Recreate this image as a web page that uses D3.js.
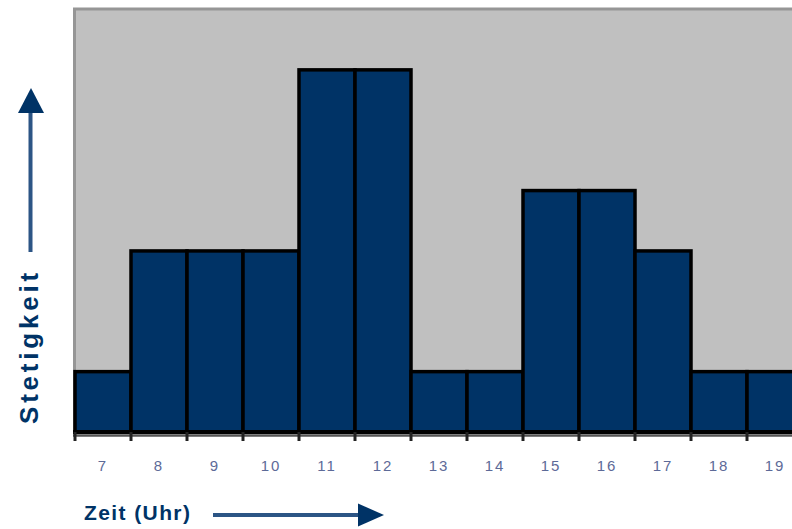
<!DOCTYPE html>
<html>
<head>
<meta charset="utf-8">
<script src="https://cdn.jsdelivr.net/npm/d3@7"></script>
<style>
  html, body { margin: 0; padding: 0; background: #ffffff; }
  svg { display: block; }
</style>
</head>
<body>
<script>
// Hourly frequency histogram (Stetigkeit per hour of day)
const hours = ["7", "8", "9", "10", "11", "12", "13", "14", "15", "16", "17", "18", "19"];
const counts = [1, 3, 3, 3, 6, 6, 1, 1, 4, 4, 3, 1, 1];
const yMax = 7;
const xTitle = "Zeit (Uhr)";
const yTitle = "Stetigkeit";

const W = 792, H = 529;
const plot = { left: 75, top: 9.5, bottom: 432, step: 56 };
const navy = "#003366";

const svg = d3.select("body").append("svg")
  .attr("width", W).attr("height", H);

const x = d3.scaleBand()
  .domain(hours)
  .range([plot.left, plot.left + plot.step * hours.length])
  .paddingInner(0).paddingOuter(0);

const y = d3.scaleLinear()
  .domain([0, yMax])
  .range([plot.bottom, plot.top]);

// plot background
svg.append("rect")
  .attr("x", plot.left).attr("y", plot.top)
  .attr("width", W - plot.left).attr("height", plot.bottom - plot.top)
  .attr("fill", "#c0c0c0");
svg.append("path")
  .attr("d", `M${plot.left - 0.5},${plot.bottom} V${plot.top - 0.5} H${W}`)
  .attr("fill", "none").attr("stroke", "#969696").attr("stroke-width", 3);

// bars
svg.append("g")
  .selectAll("rect")
  .data(hours.map((h, i) => ({ h, v: counts[i] })))
  .join("rect")
  .attr("x", d => x(d.h))
  .attr("y", d => y(d.v))
  .attr("width", x.bandwidth())
  .attr("height", d => y(0) - y(d.v))
  .attr("fill", navy)
  .attr("stroke", "#000000")
  .attr("stroke-width", 3.5);

// x axis: line, ticks at bar boundaries, hour labels centred on bars
const boundaries = hours.map(h => x(h)).concat([x(hours[hours.length - 1]) + x.bandwidth()]);
svg.append("line")
  .attr("x1", plot.left - 2).attr("x2", W)
  .attr("y1", plot.bottom + 3.5).attr("y2", plot.bottom + 3.5)
  .attr("stroke", "#555555").attr("stroke-width", 2.5);
svg.append("line")
  .attr("x1", plot.left - 2).attr("x2", W)
  .attr("y1", plot.bottom).attr("y2", plot.bottom)
  .attr("stroke", "#000000").attr("stroke-width", 4);
svg.append("g")
  .selectAll("line")
  .data(boundaries)
  .join("line")
  .attr("x1", d => d).attr("x2", d => d)
  .attr("y1", plot.bottom).attr("y2", plot.bottom + 9)
  .attr("stroke", "#222222").attr("stroke-width", 3);

const xAxis = d3.axisBottom(x).tickSize(0).tickPadding(0);
const gx = svg.append("g")
  .attr("transform", `translate(0,${plot.bottom})`)
  .call(xAxis);
gx.select(".domain").remove();
gx.selectAll("text")
  .attr("y", 39)
  .attr("dy", 0)
  .attr("fill", "#5d6a98")
  .attr("font-family", "Liberation Sans, Arial, sans-serif")
  .attr("font-size", 15)
  .attr("letter-spacing", 2);

// axis titles with direction arrows
svg.append("text")
  .attr("x", 84).attr("y", 520)
  .attr("fill", navy)
  .attr("font-family", "Liberation Sans, Arial, sans-serif")
  .attr("font-weight", "bold")
  .attr("font-size", 21)
  .attr("letter-spacing", 1.4)
  .text(xTitle);

svg.append("text")
  .attr("transform", "translate(38,346.5) rotate(-90)")
  .attr("text-anchor", "middle")
  .attr("fill", navy)
  .attr("font-family", "Liberation Sans, Arial, sans-serif")
  .attr("font-weight", "bold")
  .attr("font-size", 26)
  .attr("letter-spacing", 3.8)
  .text(yTitle);

// horizontal arrow
svg.append("line")
  .attr("x1", 213).attr("x2", 360)
  .attr("y1", 515).attr("y2", 515)
  .attr("stroke", "#2c5585").attr("stroke-width", 4);
svg.append("path")
  .attr("d", "M358,503.5 L384,515 L358,526.5 Z")
  .attr("fill", navy);

// vertical arrow
svg.append("line")
  .attr("x1", 30.5).attr("x2", 30.5)
  .attr("y1", 252).attr("y2", 110)
  .attr("stroke", "#2c5585").attr("stroke-width", 4);
svg.append("path")
  .attr("d", "M18,113 L31,88 L44,113 Z")
  .attr("fill", navy);
</script>
</body>
</html>
